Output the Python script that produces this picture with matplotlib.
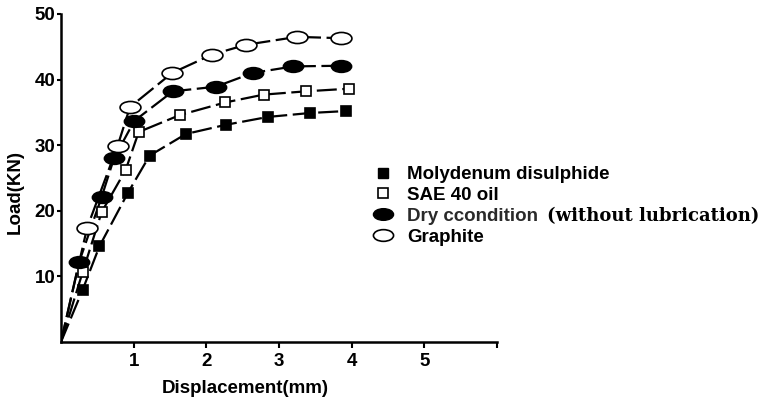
import numpy as np
import matplotlib
matplotlib.use("Agg")
import matplotlib.pyplot as plt
from matplotlib.path import Path
from matplotlib.transforms import Affine2D

# ------------------------------
# Data
# ------------------------------
moly_x = [0.0, 0.30, 0.53, 0.92, 1.22, 1.72, 2.27, 2.85, 3.43, 3.93]
moly_y = [0.0, 8.0, 14.6, 22.7, 28.4, 31.7, 33.1, 34.3, 34.9, 35.2]

sae_x = [0.0, 0.30, 0.56, 0.89, 1.07, 1.64, 2.26, 2.79, 3.37, 3.96]
sae_y = [0.0, 10.7, 19.8, 26.2, 32.0, 34.6, 36.5, 37.7, 38.2, 38.6]

dry_x = [0.0, 0.25, 0.56, 0.73, 1.01, 1.54, 2.13, 2.64, 3.20, 3.85]
dry_y = [0.0, 12.2, 22.1, 28.0, 33.7, 38.2, 38.9, 41.0, 42.0, 42.1]

graph_x = [0.0, 0.36, 0.78, 0.95, 1.53, 2.08, 2.55, 3.25, 3.85]
graph_y = [0.0, 17.4, 29.9, 35.8, 41.0, 43.8, 45.3, 46.5, 46.3]

labels = ["Molydenum disulphide", "SAE 40 oil", "Dry ccondition", "Graphite"]
xticks = [1, 2, 3, 4, 5, 6]
xtick_labels = ["1", "2", "3", "4", "5", ""]
yticks = [10, 20, 30, 40, 50]

# ellipse marker (wider than tall)
ellipse = Path.unit_circle().transformed(Affine2D().scale(1.0, 0.58))

plt.rcParams["font.family"] = ["Liberation Sans", "DejaVu Sans"]
plt.rcParams["font.weight"] = "bold"
FS = 13.5

fig = plt.figure(figsize=(7.62, 3.97), dpi=100)
ax = fig.add_axes([0.080, 0.1385, 0.572, 0.8265])

series = [
    (moly_x, moly_y, "s", "black", 7),
    (sae_x, sae_y, "s", "white", 6.5),
    (dry_x, dry_y, ellipse, "black", 14.5),
    (graph_x, graph_y, ellipse, "white", 15),
]

for (xs, ys, mk, fc, ms) in series:
    ax.plot(xs, ys, color="black", lw=1.6, ls=(0, (9, 2.5)), zorder=2)
    ax.plot(xs[1:], ys[1:], ls="none", marker=mk, ms=ms, mfc=fc,
            mec="black", mew=1.2, zorder=3)

ax.set_xlim(0, 6)
ax.set_ylim(0, 50)
ax.set_xticks(xticks)
ax.set_xticklabels(xtick_labels)
ax.set_yticks(yticks)
for s in ["top", "right"]:
    ax.spines[s].set_visible(False)
for s in ["left", "bottom"]:
    ax.spines[s].set_linewidth(1.8)
ax.tick_params(axis="x", width=1.5, length=4, labelsize=FS, pad=4)
ax.tick_params(axis="y", width=1.5, length=3, labelsize=FS, pad=1)
for t in ax.get_xticklabels() + ax.get_yticklabels():
    t.set_fontweight("bold")

fig.text(0.3215, 0.022, "Displacement(mm)", ha="center", va="center",
         fontsize=FS, fontweight="bold")
fig.text(0.020, 0.516, "Load(KN)", ha="center", va="center", rotation=90,
         fontsize=FS, fontweight="bold")

# legend, markers only
handles = [
    plt.Line2D([], [], ls="none", marker="s", ms=7, mfc="black", mec="black"),
    plt.Line2D([], [], ls="none", marker="s", ms=6.5, mfc="white", mec="black", mew=1.2),
    plt.Line2D([], [], ls="none", marker=ellipse, ms=14.5, mfc="black", mec="black"),
    plt.Line2D([], [], ls="none", marker=ellipse, ms=14.5, mfc="white", mec="black", mew=1.2),
]
leg = fig.legend(handles, labels, loc="upper left", bbox_to_anchor=(0.488, 0.582),
                 frameon=False, fontsize=FS, handlelength=1.2, handletextpad=0.67,
                 labelspacing=0.2, borderpad=0, borderaxespad=0)
for t in leg.get_texts():
    t.set_fontweight("bold")
leg.get_texts()[2].set_color("#2a2a2a")

fig.text(0.718, 0.455, "(without lubrication)", ha="left", va="center",
         fontsize=13, fontweight="bold", family="DejaVu Serif")

fig.savefig("out.png", dpi=100)
